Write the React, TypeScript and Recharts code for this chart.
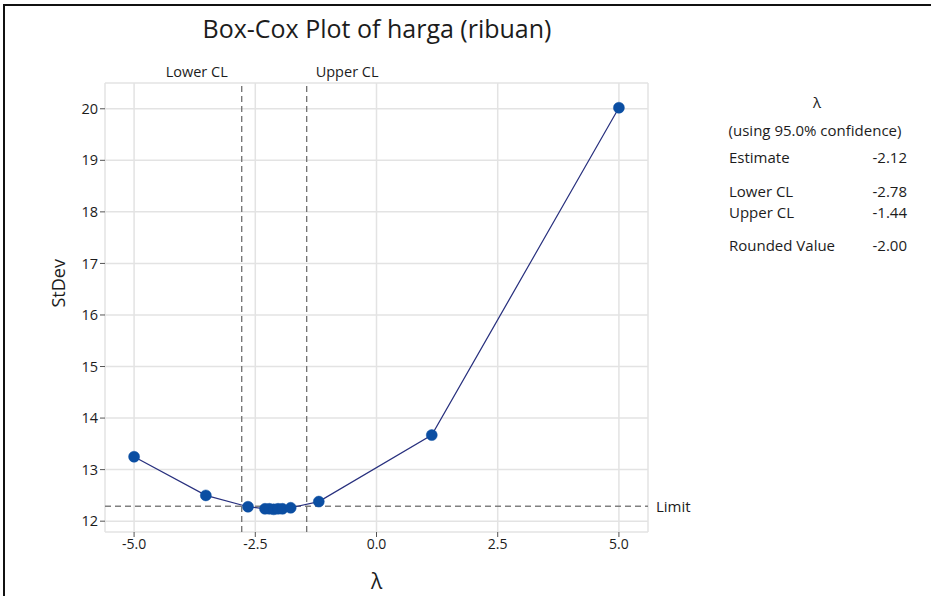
import {
  CartesianGrid,
  Line,
  LineChart,
  ReferenceArea,
  ReferenceLine,
  XAxis,
  YAxis,
} from "recharts";

const lambdas = [-5, -3.52, -2.65, -2.3, -2.21, -2.12, -2.03, -1.94, -1.77, -1.19, 1.14, 5];
const stdevs = [13.25, 12.5, 12.28, 12.24, 12.24, 12.23, 12.24, 12.24, 12.26, 12.38, 13.67, 20.02];
const xTicks = [-5, -2.5, 0, 2.5, 5];
const yTicks = [12, 13, 14, 15, 16, 17, 18, 19, 20];
const limit = 12.29;
const lowerCL = -2.78;
const upperCL = -1.44;

const statLabels = ["Estimate", "Lower CL", "Upper CL", "Rounded Value"];
const statValues = ["-2.12", "-2.78", "-1.44", "-2.00"];

const data = lambdas.map((l, i) => ({ lambda: l, stdev: stdevs[i] }));

const font = "'Open Sans', 'Noto Sans', sans-serif";
const ink = "#1c1c1c";

function CLLabel({ viewBox, text, side }: any) {
  const x = viewBox.x;
  const y = viewBox.y;
  return (
    <text
      x={side === "left" ? x - 14 : x + 9}
      y={y - 6}
      textAnchor={side === "left" ? "end" : "start"}
      fontSize={14.5}
      fill={ink}
      fontFamily={font}
    >
      {text}
    </text>
  );
}

export default function App() {
  const rowY = [158, 192, 213, 246];
  return (
    <div
      style={{
        position: "absolute",
        left: 0,
        top: 0,
        width: 931,
        height: 596,
        background: "#fff",
        fontFamily: font,
        overflow: "hidden",
      }}
    >
      <div
        style={{
          position: "absolute",
          left: 3,
          top: 4,
          width: 940,
          height: 600,
          borderLeft: "2px solid #111",
          borderTop: "2px solid #111",
        }}
      />
      <div
        style={{
          position: "absolute",
          left: 0,
          width: 754,
          top: 11,
          textAlign: "center",
          fontSize: 25,
          fontWeight: 500,
          color: ink,
        }}
      >
        Box-Cox Plot of harga (ribuan)
      </div>
      <LineChart
        width={931}
        height={596}
        data={data}
        margin={{ top: 83, right: 283, bottom: 34, left: 45 }}
        style={{ position: "absolute", left: 0, top: 0 }}
      >
        <CartesianGrid stroke="#e3e3e3" strokeWidth={1.5} />
        <XAxis
          dataKey="lambda"
          type="number"
          domain={[-5.6, 5.6]}
          ticks={xTicks}
          tickFormatter={(v: number) => v.toFixed(1)}
          height={30}
          tickSize={5}
          axisLine={false}
          tickLine={{ stroke: "#555" }}
          tick={{ fill: ink, fontSize: 14, fontFamily: font }}
          label={{ value: "λ", position: "insideBottom", offset: -27, fill: ink, fontSize: 21, fontFamily: font }}
        />
        <YAxis
          type="number"
          domain={[11.79, 20.5]}
          ticks={yTicks}
          width={60}
          tickSize={5}
          axisLine={false}
          tickLine={{ stroke: "#555" }}
          tick={{ fill: ink, fontSize: 14.5, fontFamily: font }}
          label={{ value: "StDev", angle: -90, position: "insideLeft", offset: 14, fill: ink, fontSize: 18, fontFamily: font }}
        />
        <ReferenceArea fill="none" stroke="#6a6a6a" strokeWidth={1.5} />
        <ReferenceLine
          y={limit}
          stroke="#808080"
          strokeWidth={1.4}
          strokeDasharray="6 4"
          label={{ value: "Limit", position: "right", offset: 8, fill: ink, fontSize: 15, fontFamily: font }}
        />
        <ReferenceLine
          x={lowerCL}
          stroke="#707070"
          strokeWidth={1.3}
          strokeDasharray="6 4"
          label={(p: any) => <CLLabel {...p} text="Lower CL" side="left" />}
        />
        <ReferenceLine
          x={upperCL}
          stroke="#707070"
          strokeWidth={1.3}
          strokeDasharray="6 4"
          label={(p: any) => <CLLabel {...p} text="Upper CL" side="right" />}
        />
        <Line
          dataKey="stdev"
          stroke="#28307e"
          strokeWidth={1.2}
          dot={{ r: 5.5, fill: "#0b4ea2", stroke: "#0b4ea2", strokeWidth: 0.5 }}
          isAnimationActive={false}
        />
      </LineChart>
      <div style={{ position: "absolute", left: 717, width: 200, top: 92, textAlign: "center", fontSize: 15, color: ink }}>
        λ
      </div>
      <div style={{ position: "absolute", left: 715, width: 200, top: 120, textAlign: "center", fontSize: 15, color: ink }}>
        (using 95.0% confidence)
      </div>
      {statLabels.map((s, i) => (
        <div key={s}>
          <div style={{ position: "absolute", left: 729, top: rowY[i] - 11, fontSize: 15, color: ink }}>{s}</div>
          <div style={{ position: "absolute", right: 931 - 907, top: rowY[i] - 11, fontSize: 15, color: ink }}>
            {statValues[i]}
          </div>
        </div>
      ))}
    </div>
  );
}
